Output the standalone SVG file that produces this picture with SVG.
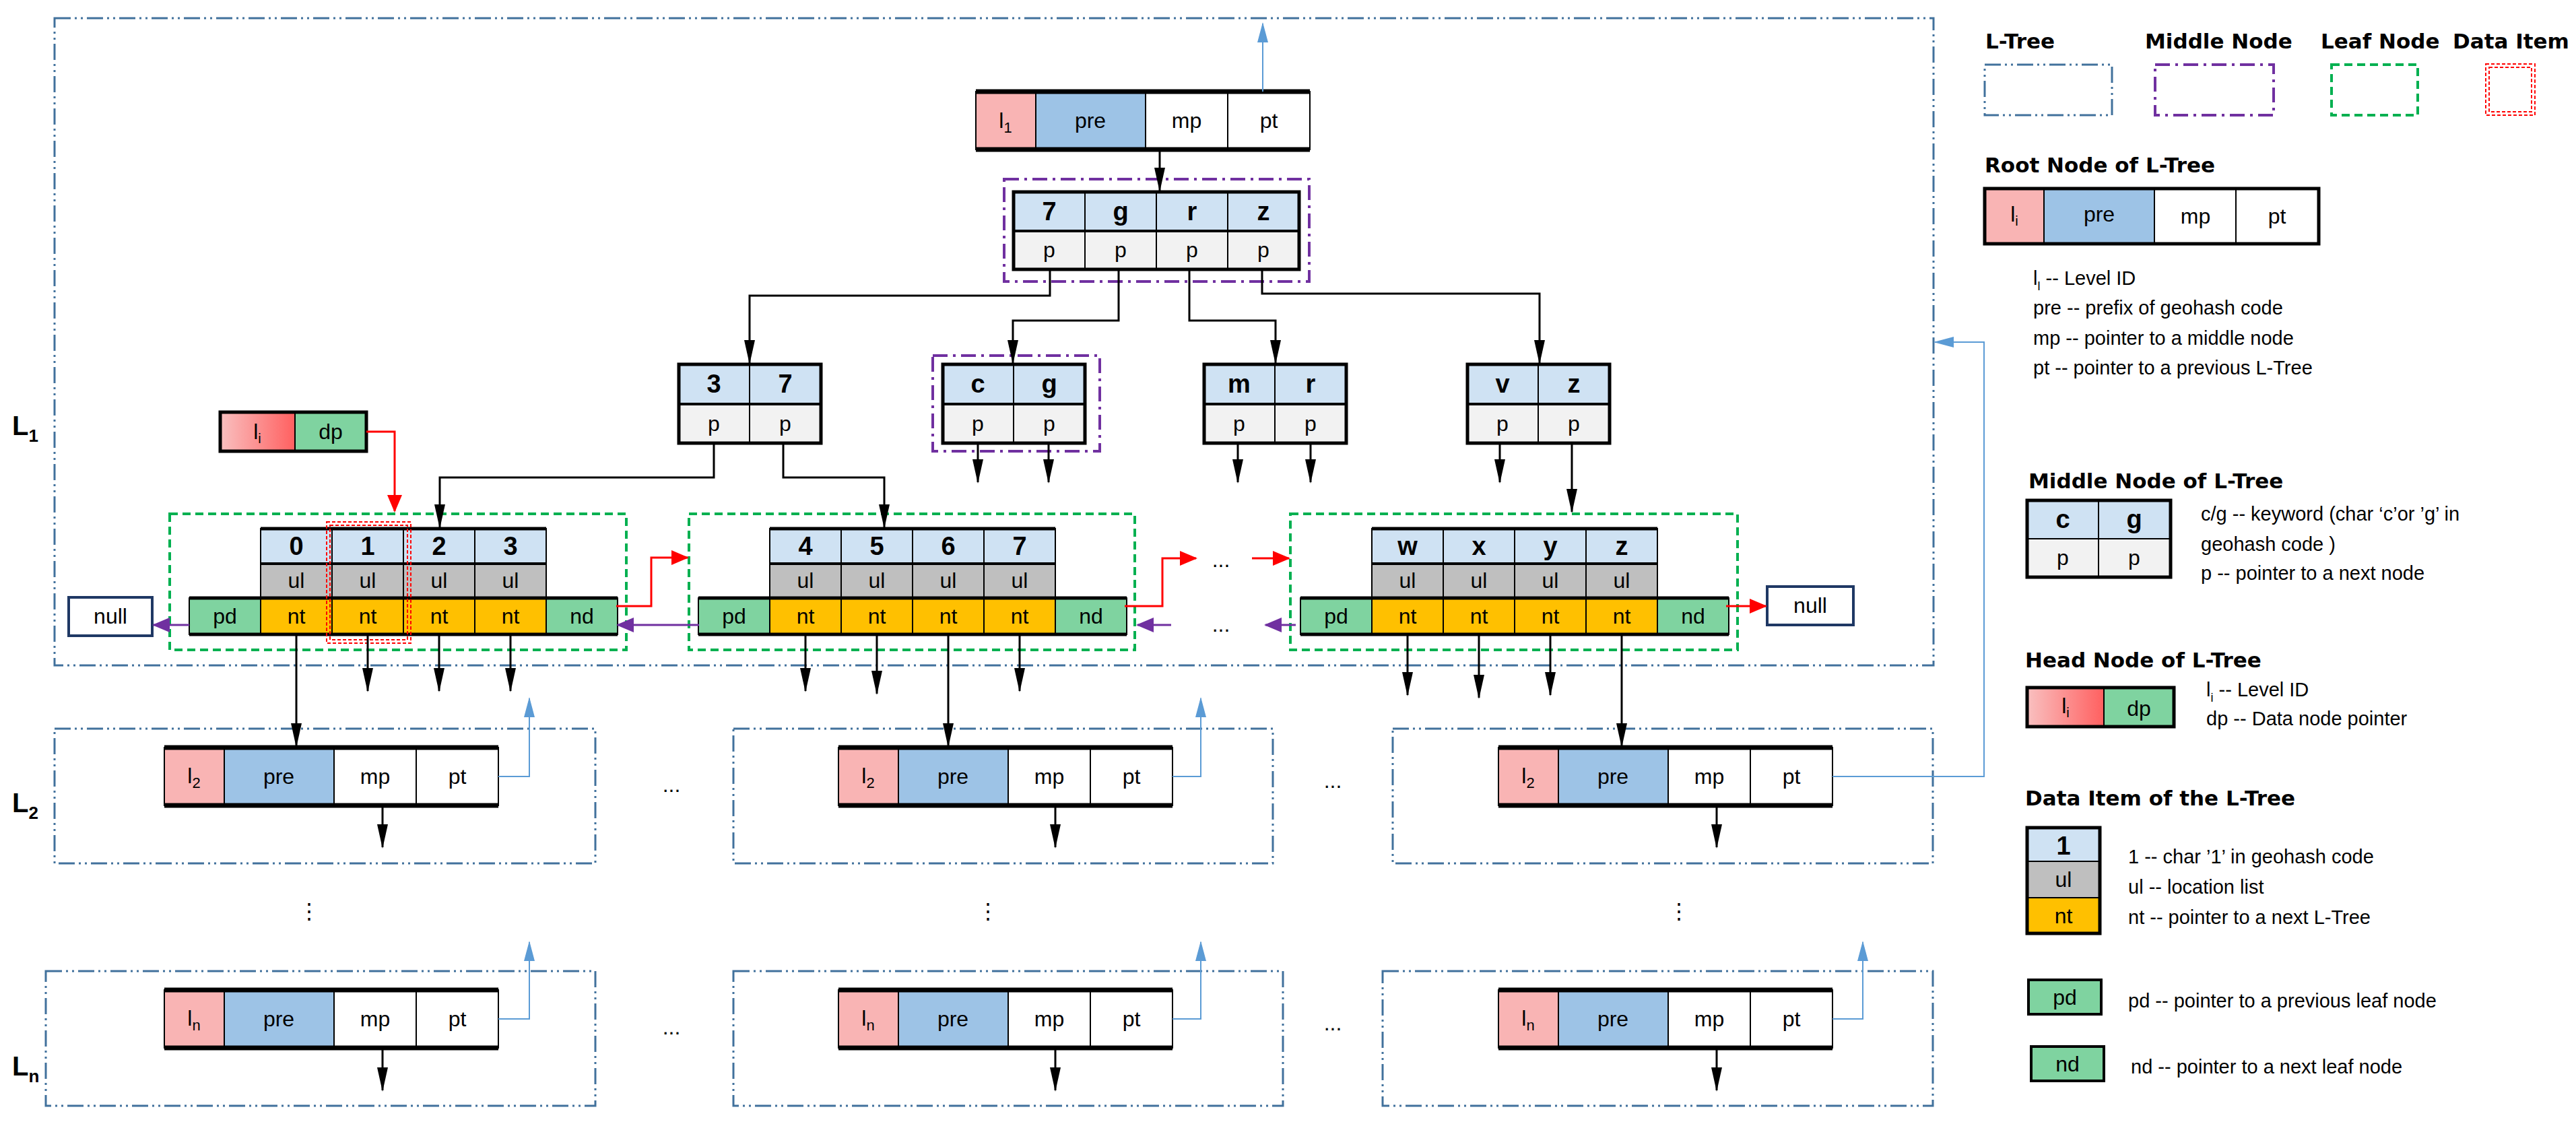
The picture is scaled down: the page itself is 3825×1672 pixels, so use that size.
<svg xmlns="http://www.w3.org/2000/svg" width="3825" height="1672" viewBox="0 0 3825 1672">
<style>
text{font-family:"Liberation Sans",Arial,sans-serif;fill:#000}
.t{font-size:32px;text-anchor:middle;dominant-baseline:central}
.k{font-size:38px;font-weight:bold;text-anchor:middle;dominant-baseline:central}
.lg{font-size:29px}
.h{font-size:31px;font-weight:bold;font-family:"DejaVu Sans",sans-serif}
.lv{font-size:40px;font-weight:bold}
.c{stroke:#000;stroke-width:2}
.pk{fill:#f9b4b4}.bl{fill:#9dc3e6}.wh{fill:#fff}.ky{fill:#cfe2f3}.pp{fill:#f2f2f2}.ul{fill:#bfbfbf}.nt{fill:#ffc000}.gr{fill:#7fd3a0}
.ob{fill:none;stroke:#000;stroke-width:5}
.lt{fill:none;stroke:#41719c;stroke-width:3;stroke-dasharray:24 6 3 6 3 6}
.mn{fill:none;stroke:#7030a0;stroke-width:4;stroke-dasharray:22 8 4 8}
.lf{fill:none;stroke:#00b050;stroke-width:4;stroke-dasharray:12 7}
.di{fill:none;stroke:#ff0000;stroke-width:2;stroke-dasharray:5 3}
.ak{fill:none;stroke:#000;stroke-width:3;marker-end:url(#ab)}
.ab{fill:none;stroke:#5b9bd5;stroke-width:2;marker-end:url(#abl)}
.ar{fill:none;stroke:#ff0000;stroke-width:3;marker-end:url(#ar)}
.ap{fill:none;stroke:#7030a0;stroke-width:3;marker-end:url(#ap)}
</style>
<defs>
<marker id="ab" markerUnits="userSpaceOnUse" markerWidth="36" markerHeight="16" refX="34" refY="8" orient="auto"><path d="M0,0 L36,8 L0,16 z" fill="#000"/></marker>
<marker id="abl" markerUnits="userSpaceOnUse" markerWidth="30" markerHeight="16" refX="28" refY="8" orient="auto"><path d="M0,0 L30,8 L0,16 z" fill="#5b9bd5"/></marker>
<marker id="ar" markerUnits="userSpaceOnUse" markerWidth="26" markerHeight="22" refX="24" refY="11" orient="auto"><path d="M0,0 L26,11 L0,22 z" fill="#ff0000"/></marker>
<marker id="ap" markerUnits="userSpaceOnUse" markerWidth="26" markerHeight="22" refX="24" refY="11" orient="auto"><path d="M0,0 L26,11 L0,22 z" fill="#7030a0"/></marker>
<linearGradient id="hg" x1="0" x2="1"><stop offset="0" stop-color="#f9c0c0"/><stop offset="1" stop-color="#ff6060"/></linearGradient>
<g id="rootcells">
<rect class="pk c" x="0" y="0" width="89" height="86"/><rect class="bl c" x="89" y="0" width="163" height="86"/><rect class="wh c" x="252" y="0" width="122" height="86"/><rect class="wh c" x="374" y="0" width="122" height="86"/>
<line x1="0" y1="0" x2="496" y2="0" stroke="#000" stroke-width="7"/><line x1="0" y1="86" x2="496" y2="86" stroke="#000" stroke-width="7"/>
<text class="t" x="170" y="43">pre</text><text class="t" x="313" y="43">mp</text><text class="t" x="435" y="43">pt</text>
</g>
</defs>

<!-- L-Tree boxes -->
<g id="boxes">
<rect class="lt" x="81" y="27" width="2790" height="961"/>
<rect class="lt" x="81" y="1082" width="803" height="200"/>
<rect class="lt" x="1089" y="1082" width="801" height="200"/>
<rect class="lt" x="2068" y="1082" width="802" height="200"/>
<rect class="lt" x="68" y="1442" width="816" height="200"/>
<rect class="lt" x="1089" y="1442" width="816" height="200"/>
<rect class="lt" x="2053" y="1442" width="817" height="200"/>
<text class="lv" x="18" y="646">L<tspan font-size="26" dy="10">1</tspan></text>
<text class="lv" x="18" y="1206">L<tspan font-size="26" dy="10">2</tspan></text>
<text class="lv" x="18" y="1597">L<tspan font-size="26" dy="10">n</tspan></text>
</g>

<g id="root1"><use href="#rootcells" x="1449" y="136"/><text class="t" x="1493" y="179">l<tspan font-size="22" dy="10">1</tspan></text></g>

<g id="middle">
<rect class="mn" x="1491" y="266" width="453" height="152"/>
<rect class="ky c" x="1505" y="285" width="106" height="58"/><rect class="ky c" x="1611" y="285" width="106" height="58"/><rect class="ky c" x="1717" y="285" width="106" height="58"/><rect class="ky c" x="1823" y="285" width="106" height="58"/>
<rect class="pp c" x="1505" y="343" width="106" height="57"/><rect class="pp c" x="1611" y="343" width="106" height="57"/><rect class="pp c" x="1717" y="343" width="106" height="57"/><rect class="pp c" x="1823" y="343" width="106" height="57"/>
<rect class="ob" x="1505" y="285" width="424" height="115"/><line x1="1505" y1="343" x2="1929" y2="343" stroke="#000" stroke-width="4"/>
<text class="k" x="1558" y="314">7</text><text class="k" x="1664" y="314">g</text><text class="k" x="1770" y="314">r</text><text class="k" x="1876" y="314">z</text>
<text class="t" x="1558" y="371">p</text><text class="t" x="1664" y="371">p</text><text class="t" x="1770" y="371">p</text><text class="t" x="1876" y="371">p</text>
</g>

<g id="n37"><rect class="ky c" x="1008" y="541" width="105" height="59"/><rect class="ky c" x="1113" y="541" width="106" height="59"/><rect class="pp c" x="1008" y="600" width="105" height="58"/><rect class="pp c" x="1113" y="600" width="106" height="58"/><rect class="ob" x="1008" y="541" width="211" height="117"/><line x1="1008" y1="600" x2="1219" y2="600" stroke="#000" stroke-width="4"/><text class="k" x="1060" y="570">3</text><text class="k" x="1166" y="570">7</text><text class="t" x="1060" y="629">p</text><text class="t" x="1166" y="629">p</text></g>
<g id="ncg"><rect class="mn" x="1385" y="528" width="248" height="142"/><rect class="ky c" x="1400" y="541" width="105" height="59"/><rect class="ky c" x="1505" y="541" width="106" height="59"/><rect class="pp c" x="1400" y="600" width="105" height="58"/><rect class="pp c" x="1505" y="600" width="106" height="58"/><rect class="ob" x="1400" y="541" width="211" height="117"/><line x1="1400" y1="600" x2="1611" y2="600" stroke="#000" stroke-width="4"/><text class="k" x="1452" y="570">c</text><text class="k" x="1558" y="570">g</text><text class="t" x="1452" y="629">p</text><text class="t" x="1558" y="629">p</text></g>
<g id="nmr"><rect class="ky c" x="1788" y="541" width="105" height="59"/><rect class="ky c" x="1893" y="541" width="106" height="59"/><rect class="pp c" x="1788" y="600" width="105" height="58"/><rect class="pp c" x="1893" y="600" width="106" height="58"/><rect class="ob" x="1788" y="541" width="211" height="117"/><line x1="1788" y1="600" x2="1999" y2="600" stroke="#000" stroke-width="4"/><text class="k" x="1840" y="570">m</text><text class="k" x="1946" y="570">r</text><text class="t" x="1840" y="629">p</text><text class="t" x="1946" y="629">p</text></g>
<g id="nvz"><rect class="ky c" x="2179" y="541" width="105" height="59"/><rect class="ky c" x="2284" y="541" width="106" height="59"/><rect class="pp c" x="2179" y="600" width="105" height="58"/><rect class="pp c" x="2284" y="600" width="106" height="58"/><rect class="ob" x="2179" y="541" width="211" height="117"/><line x1="2179" y1="600" x2="2390" y2="600" stroke="#000" stroke-width="4"/><text class="k" x="2231" y="570">v</text><text class="k" x="2337" y="570">z</text><text class="t" x="2231" y="629">p</text><text class="t" x="2337" y="629">p</text></g>

<g id="head"><rect x="327" y="612" width="111" height="58" fill="url(#hg)" stroke="#000" stroke-width="2"/><rect class="gr c" x="438" y="612" width="106" height="58"/><rect class="ob" x="327" y="612" width="217" height="58"/><text class="t" x="382" y="641">l<tspan font-size="20" dy="10">i</tspan></text><text class="t" x="491" y="641">dp</text></g>

<!-- leaf nodes -->
<g id="leaf1">
<rect class="lf" x="252" y="763" width="678" height="202"/>
<g transform="translate(387,0)">
<rect class="ky c" x="0" y="785" width="106" height="52"/><rect class="ky c" x="106" y="785" width="106" height="52"/><rect class="ky c" x="212" y="785" width="106" height="52"/><rect class="ky c" x="318" y="785" width="106" height="52"/>
<rect class="ul c" x="0" y="837" width="106" height="51"/><rect class="ul c" x="106" y="837" width="106" height="51"/><rect class="ul c" x="212" y="837" width="106" height="51"/><rect class="ul c" x="318" y="837" width="106" height="51"/>
<rect class="gr c" x="-106" y="888" width="106" height="54"/><rect class="nt c" x="0" y="888" width="106" height="54"/><rect class="nt c" x="106" y="888" width="106" height="54"/><rect class="nt c" x="212" y="888" width="106" height="54"/><rect class="nt c" x="318" y="888" width="106" height="54"/><rect class="gr c" x="424" y="888" width="106" height="54"/>
<line x1="0" y1="785" x2="424" y2="785" stroke="#000" stroke-width="5"/><line x1="0" y1="837" x2="424" y2="837" stroke="#000" stroke-width="4"/><line x1="-106" y1="888" x2="530" y2="888" stroke="#000" stroke-width="5"/><line x1="-106" y1="942" x2="530" y2="942" stroke="#000" stroke-width="5"/>
<text class="k" x="53" y="811">0</text><text class="k" x="159" y="811">1</text><text class="k" x="265" y="811">2</text><text class="k" x="371" y="811">3</text>
<text class="t" x="53" y="862">ul</text><text class="t" x="159" y="862">ul</text><text class="t" x="265" y="862">ul</text><text class="t" x="371" y="862">ul</text>
<text class="t" x="-53" y="915">pd</text><text class="t" x="53" y="915">nt</text><text class="t" x="159" y="915">nt</text><text class="t" x="265" y="915">nt</text><text class="t" x="371" y="915">nt</text><text class="t" x="477" y="915">nd</text>
</g>
<rect class="di" x="485" y="775" width="125" height="180"/><rect class="di" x="490" y="780" width="115" height="170"/>
</g>
<g id="leaf2">
<rect class="lf" x="1023" y="763" width="662" height="202"/>
<g transform="translate(1143,0)">
<rect class="ky c" x="0" y="785" width="106" height="52"/><rect class="ky c" x="106" y="785" width="106" height="52"/><rect class="ky c" x="212" y="785" width="106" height="52"/><rect class="ky c" x="318" y="785" width="106" height="52"/>
<rect class="ul c" x="0" y="837" width="106" height="51"/><rect class="ul c" x="106" y="837" width="106" height="51"/><rect class="ul c" x="212" y="837" width="106" height="51"/><rect class="ul c" x="318" y="837" width="106" height="51"/>
<rect class="gr c" x="-106" y="888" width="106" height="54"/><rect class="nt c" x="0" y="888" width="106" height="54"/><rect class="nt c" x="106" y="888" width="106" height="54"/><rect class="nt c" x="212" y="888" width="106" height="54"/><rect class="nt c" x="318" y="888" width="106" height="54"/><rect class="gr c" x="424" y="888" width="106" height="54"/>
<line x1="0" y1="785" x2="424" y2="785" stroke="#000" stroke-width="5"/><line x1="0" y1="837" x2="424" y2="837" stroke="#000" stroke-width="4"/><line x1="-106" y1="888" x2="530" y2="888" stroke="#000" stroke-width="5"/><line x1="-106" y1="942" x2="530" y2="942" stroke="#000" stroke-width="5"/>
<text class="k" x="53" y="811">4</text><text class="k" x="159" y="811">5</text><text class="k" x="265" y="811">6</text><text class="k" x="371" y="811">7</text>
<text class="t" x="53" y="862">ul</text><text class="t" x="159" y="862">ul</text><text class="t" x="265" y="862">ul</text><text class="t" x="371" y="862">ul</text>
<text class="t" x="-53" y="915">pd</text><text class="t" x="53" y="915">nt</text><text class="t" x="159" y="915">nt</text><text class="t" x="265" y="915">nt</text><text class="t" x="371" y="915">nt</text><text class="t" x="477" y="915">nd</text>
</g>
</g>
<g id="leaf3">
<rect class="lf" x="1916" y="763" width="664" height="202"/>
<g transform="translate(2037,0)">
<rect class="ky c" x="0" y="785" width="106" height="52"/><rect class="ky c" x="106" y="785" width="106" height="52"/><rect class="ky c" x="212" y="785" width="106" height="52"/><rect class="ky c" x="318" y="785" width="106" height="52"/>
<rect class="ul c" x="0" y="837" width="106" height="51"/><rect class="ul c" x="106" y="837" width="106" height="51"/><rect class="ul c" x="212" y="837" width="106" height="51"/><rect class="ul c" x="318" y="837" width="106" height="51"/>
<rect class="gr c" x="-106" y="888" width="106" height="54"/><rect class="nt c" x="0" y="888" width="106" height="54"/><rect class="nt c" x="106" y="888" width="106" height="54"/><rect class="nt c" x="212" y="888" width="106" height="54"/><rect class="nt c" x="318" y="888" width="106" height="54"/><rect class="gr c" x="424" y="888" width="106" height="54"/>
<line x1="0" y1="785" x2="424" y2="785" stroke="#000" stroke-width="5"/><line x1="0" y1="837" x2="424" y2="837" stroke="#000" stroke-width="4"/><line x1="-106" y1="888" x2="530" y2="888" stroke="#000" stroke-width="5"/><line x1="-106" y1="942" x2="530" y2="942" stroke="#000" stroke-width="5"/>
<text class="k" x="53" y="811">w</text><text class="k" x="159" y="811">x</text><text class="k" x="265" y="811">y</text><text class="k" x="371" y="811">z</text>
<text class="t" x="53" y="862">ul</text><text class="t" x="159" y="862">ul</text><text class="t" x="265" y="862">ul</text><text class="t" x="371" y="862">ul</text>
<text class="t" x="-53" y="915">pd</text><text class="t" x="53" y="915">nt</text><text class="t" x="159" y="915">nt</text><text class="t" x="265" y="915">nt</text><text class="t" x="371" y="915">nt</text><text class="t" x="477" y="915">nd</text>
</g>
</g>
<g id="null1"><rect x="102" y="887" width="124" height="57" fill="#fff" stroke="#1f3864" stroke-width="4"/><text class="t" x="164" y="915">null</text></g>
<g id="null2"><rect x="2624" y="871" width="128" height="57" fill="#fff" stroke="#1f3864" stroke-width="4"/><text class="t" x="2688" y="899">null</text></g>

<!-- lower roots -->
<g id="l2a"><use href="#rootcells" x="244" y="1110"/><text class="t" x="288" y="1152">l<tspan font-size="22" dy="10">2</tspan></text></g>
<g id="l2b"><use href="#rootcells" x="1245" y="1110"/><text class="t" x="1289" y="1152">l<tspan font-size="22" dy="10">2</tspan></text></g>
<g id="l2c"><use href="#rootcells" x="2225" y="1110"/><text class="t" x="2269" y="1152">l<tspan font-size="22" dy="10">2</tspan></text></g>
<g id="lna"><use href="#rootcells" x="244" y="1470"/><text class="t" x="288" y="1512">l<tspan font-size="22" dy="10">n</tspan></text></g>
<g id="lnb"><use href="#rootcells" x="1245" y="1470"/><text class="t" x="1289" y="1512">l<tspan font-size="22" dy="10">n</tspan></text></g>
<g id="lnc"><use href="#rootcells" x="2225" y="1470"/><text class="t" x="2269" y="1512">l<tspan font-size="22" dy="10">n</tspan></text></g>

<g id="dots" fill="#ff0000" font-size="32" text-anchor="middle" font-family="Liberation Sans,sans-serif">
<text x="997" y="1176" fill="#ff0000">...</text><text x="1979" y="1170" fill="#ff0000">...</text>
<text x="997" y="1536" fill="#ff0000">...</text><text x="1979" y="1530" fill="#ff0000">...</text>
<text x="1813" y="842" fill="#ff0000">...</text><text x="1813" y="938" fill="#7030a0">...</text>
<text x="459" y="1364" fill="#ff0000">⋮</text><text x="1467" y="1364" fill="#ff0000">⋮</text><text x="2493" y="1364" fill="#ff0000">⋮</text>
</g>

<g id="connectors">
<path class="ak" d="M1722 221 V283"/>
<path class="ak" d="M1559 400 V439 H1113 V539"/>
<path class="ak" d="M1661 400 V476 H1504 V539"/>
<path class="ak" d="M1766 400 V476 H1894 V539"/>
<path class="ak" d="M1874 400 V436 H2286 V539"/>
<path class="ak" d="M1452 658 V716"/><path class="ak" d="M1557 658 V716"/>
<path class="ak" d="M1838 658 V716"/><path class="ak" d="M1946 658 V716"/>
<path class="ak" d="M2227 658 V716"/><path class="ak" d="M2334 658 V760"/>
<path class="ak" d="M1060 658 V709 H653 V783"/>
<path class="ak" d="M1163 658 V709 H1313 V783"/>
<path class="ak" d="M440 942 V1108"/><path class="ak" d="M546 942 V1026"/><path class="ak" d="M652 942 V1026"/><path class="ak" d="M758 942 V1026"/>
<path class="ak" d="M1196 942 V1026"/><path class="ak" d="M1302 942 V1030"/><path class="ak" d="M1408 942 V1108"/><path class="ak" d="M1514 942 V1026"/>
<path class="ak" d="M2090 942 V1032"/><path class="ak" d="M2196 942 V1036"/><path class="ak" d="M2302 942 V1032"/><path class="ak" d="M2408 942 V1108"/>
<path class="ak" d="M568 1195 V1258"/><path class="ak" d="M1567 1195 V1258"/><path class="ak" d="M2549 1195 V1258"/>
<path class="ak" d="M568 1557 V1619"/><path class="ak" d="M1567 1557 V1619"/><path class="ak" d="M2549 1557 V1619"/>
<path class="ab" d="M1875 136 V35"/>
<path class="ab" d="M740 1153 H786 V1037"/><path class="ab" d="M1741 1153 H1783 V1037"/><path class="ab" d="M2721 1153 H2946 V508 H2873"/>
<path class="ab" d="M740 1513 H786 V1399"/><path class="ab" d="M1741 1513 H1783 V1399"/><path class="ab" d="M2721 1513 H2766 V1399"/>
<path class="ar" d="M544 641 H586 V759"/>
<path class="ar" d="M915 900 H967 V828 H1021"/>
<path class="ar" d="M1670 900 H1726 V829 H1776"/>
<path class="ar" d="M1859 829 H1914"/>
<path class="ar" d="M2563 900 H2622"/>
<path class="ap" d="M281 928 H228"/><path class="ap" d="M1038 928 H917"/><path class="ap" d="M1739 928 H1689"/><path class="ap" d="M1924 928 H1879"/>
</g>

<!-- legend -->
<g id="legend-types">
<text class="h" x="2948" y="72">L-Tree</text><text class="h" x="3185" y="72">Middle Node</text><text class="h" x="3446" y="72">Leaf Node</text><text class="h" x="3642" y="72">Data Item</text>
<rect class="lt" x="2947" y="96" width="189" height="75"/>
<rect class="mn" x="3200" y="96" width="176" height="75"/>
<rect class="lf" x="3462" y="96" width="128" height="75"/>
<rect class="di" x="3691" y="95" width="73" height="76"/><rect class="di" x="3696" y="100" width="63" height="66"/>
</g>
<g id="legend-root">
<text class="h" x="2947" y="256">Root Node  of L-Tree</text>
<rect class="pk c" x="2947" y="280" width="88" height="82"/><rect class="bl c" x="3035" y="280" width="164" height="82"/><rect class="wh c" x="3199" y="280" width="121" height="82"/><rect class="wh c" x="3320" y="280" width="123" height="82"/>
<rect class="ob" x="2947" y="280" width="496" height="82" stroke-width="4"/>
<text class="t" x="2991" y="318">l<tspan font-size="20" dy="10">i</tspan></text><text class="t" x="3117" y="318">pre</text><text class="t" x="3260" y="321">mp</text><text class="t" x="3381" y="321">pt</text>
<text class="lg" x="3019" y="423">l<tspan font-size="18" dy="8">l</tspan><tspan dy="-8"> -- Level ID</tspan></text>
<text class="lg" x="3019" y="467">pre -- prefix of geohash code</text>
<text class="lg" x="3019" y="512">mp -- pointer to a middle node</text>
<text class="lg" x="3019" y="556">pt -- pointer  to a previous L-Tree</text>
</g>
<g id="legend-middle">
<text class="h" x="3012" y="725">Middle Node  of L-Tree</text>
<rect class="ky c" x="3010" y="743" width="106" height="57"/><rect class="ky c" x="3116" y="743" width="107" height="57"/><rect class="pp c" x="3010" y="800" width="106" height="57"/><rect class="pp c" x="3116" y="800" width="107" height="57"/>
<rect class="ob" x="3010" y="743" width="213" height="114" stroke-width="4"/>
<text class="k" x="3063" y="771">c</text><text class="k" x="3169" y="771">g</text><text class="t" x="3063" y="828">p</text><text class="t" x="3169" y="828">p</text>
<text class="lg" x="3268" y="773">c/g --  keyword (char ‘c’or ’g’ in</text>
<text class="lg" x="3268" y="818">geohash code )</text>
<text class="lg" x="3268" y="861">p -- pointer to a next node</text>
</g>
<g id="legend-head">
<text class="h" x="3007" y="991">Head Node of L-Tree</text>
<rect x="3010" y="1021" width="114" height="58" fill="url(#hg)" stroke="#000" stroke-width="2"/><rect class="gr c" x="3124" y="1021" width="104" height="58"/>
<rect class="ob" x="3010" y="1021" width="218" height="58" stroke-width="4"/>
<text class="t" x="3067" y="1048">l<tspan font-size="20" dy="10">i</tspan></text><text class="t" x="3176" y="1052">dp</text>
<text class="lg" x="3276" y="1034">l<tspan font-size="18" dy="8">i</tspan><tspan dy="-8"> -- Level ID</tspan></text>
<text class="lg" x="3276" y="1077">dp -- Data node pointer</text>
</g>
<g id="legend-data">
<text class="h" x="3007" y="1196">Data Item of the L-Tree</text>
<rect class="ky c" x="3010" y="1229" width="108" height="50"/><rect class="ul c" x="3010" y="1279" width="108" height="54"/><rect class="nt c" x="3010" y="1333" width="108" height="53"/>
<rect class="ob" x="3010" y="1229" width="108" height="157" stroke-width="4"/>
<text class="k" x="3064" y="1256">1</text><text class="t" x="3064" y="1306">ul</text><text class="t" x="3064" y="1360">nt</text>
<text class="lg" x="3160" y="1282">1 -- char ’1’ in geohash code</text>
<text class="lg" x="3160" y="1327">ul -- location list</text>
<text class="lg" x="3160" y="1372">nt -- pointer to a next L-Tree</text>
</g>
<g id="legend-pd"><rect class="gr" x="3012" y="1455" width="108" height="51" stroke="#000" stroke-width="4"/><text class="t" x="3066" y="1481">pd</text><text class="lg" x="3160" y="1496">pd -- pointer to a previous leaf node</text></g>
<g id="legend-nd"><rect class="gr" x="3016" y="1554" width="108" height="51" stroke="#000" stroke-width="4"/><text class="t" x="3070" y="1580">nd</text><text class="lg" x="3164" y="1594">nd -- pointer to a next leaf node</text></g>
</svg>
